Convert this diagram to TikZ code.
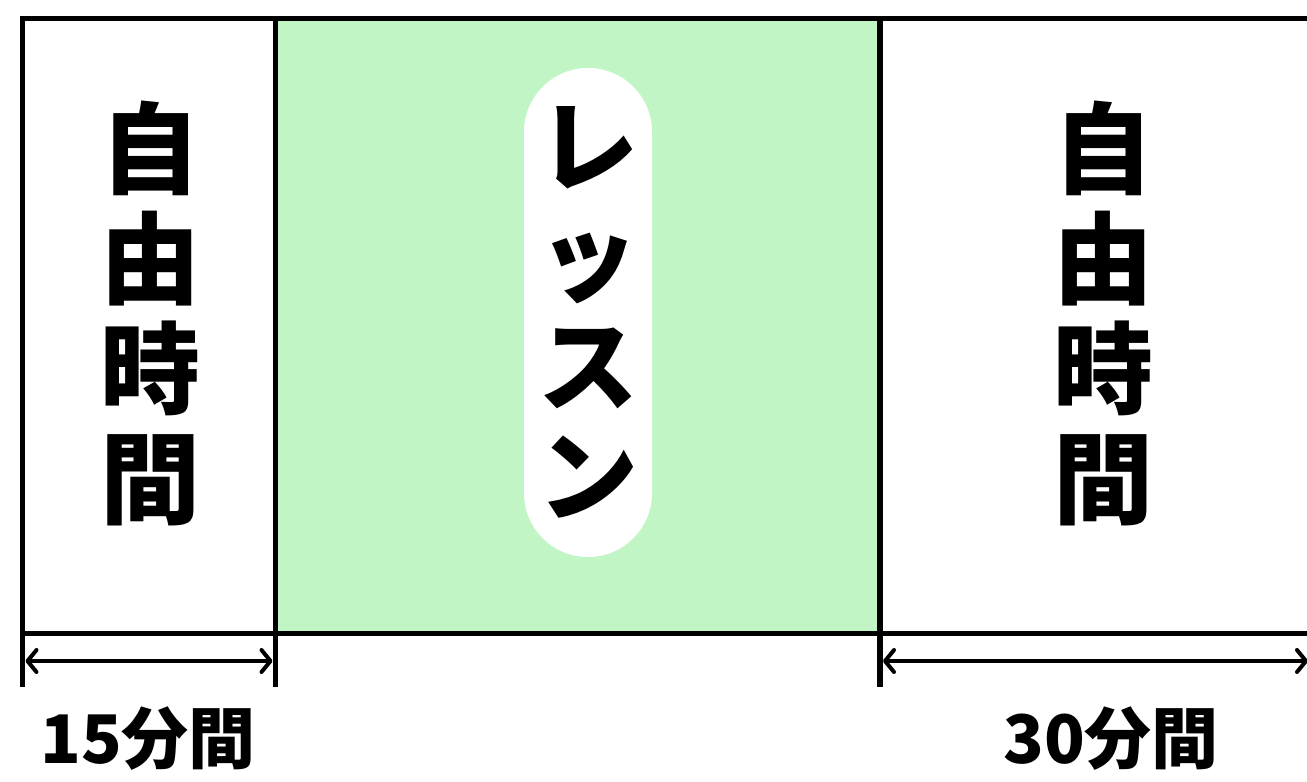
\documentclass[tikz,border=0pt]{standalone}
\usepackage{fontspec}
\newfontfamily\jp{Noto Sans CJK JP}
\usetikzlibrary{arrows.meta}
\definecolor{lessongreen}{RGB}{193,245,198}
\tikzset{
  frame/.style={draw=black, line width=5.5pt},
  tick/.style={draw=black, line width=5.5pt},
  dim/.style={draw=black, line width=4pt, line cap=round,
    {Straight Barb[length=9pt,width=22pt,line cap=round,line join=round]}-{Straight Barb[length=9pt,width=22pt,line cap=round,line join=round]}},
  vtext/.style={font=\jp\bfseries\fontsize{100}{110}\selectfont, align=center, inner sep=0pt},
  dimlabel/.style={font=\jp\bfseries\fontsize{67}{80}\selectfont, inner sep=0pt},
  pill/.style={fill=white, rounded corners=64pt, minimum width=128pt, minimum height=489pt, inner sep=0pt}
}
\begin{document}
\begin{tikzpicture}[x=1pt,y=-1pt]
\useasboundingbox (0,0) rectangle (1307,782);
\clip (0,0) rectangle (1307,782);
% boxes
\fill[lessongreen] (275.5,18.5) rectangle (880,633.5);
\draw[frame] (22.5,633.5) -- (22.5,18.5) -- (1330,18.5);
\draw[frame] (22.5,633.5) -- (1330,633.5);
\draw[frame] (275.5,18.5) -- (275.5,633.5);
\draw[frame] (880,18.5) -- (880,633.5);
% extension lines
\coordinate (a1) at (22.5,633.5);  \coordinate (a2) at (22.5,687);
\coordinate (b1) at (275.5,633.5); \coordinate (b2) at (275.5,687);
\coordinate (c1) at (880,633.5);   \coordinate (c2) at (880,687);
\draw[tick] (a1) -- (a2);
\draw[tick] (b1) -- (b2);
\draw[tick] (c1) -- (c2);
% dimension arrows
\coordinate (l1) at (25.5,661); \coordinate (l2) at (272.5,661);
\coordinate (r1) at (883,661);  \coordinate (r2) at (1308,661);
\draw[dim] (l1) -- (l2);
\draw[dim] (r1) -- (r2);
% texts
\node[vtext] (free1) at (150,313) {自\\由\\時\\間};
\node[pill] (pill) at (588,312.5) {};
\node[vtext] (lesson) at (pill.center) {レ\\ッ\\ス\\ン};
\node[vtext] (free2) at (1103,313) {自\\由\\時\\間};
\node[dimlabel] (d1) at (148,739) {15分間};
\node[dimlabel] (d2) at (1111,739) {30分間};
\end{tikzpicture}
\end{document}
